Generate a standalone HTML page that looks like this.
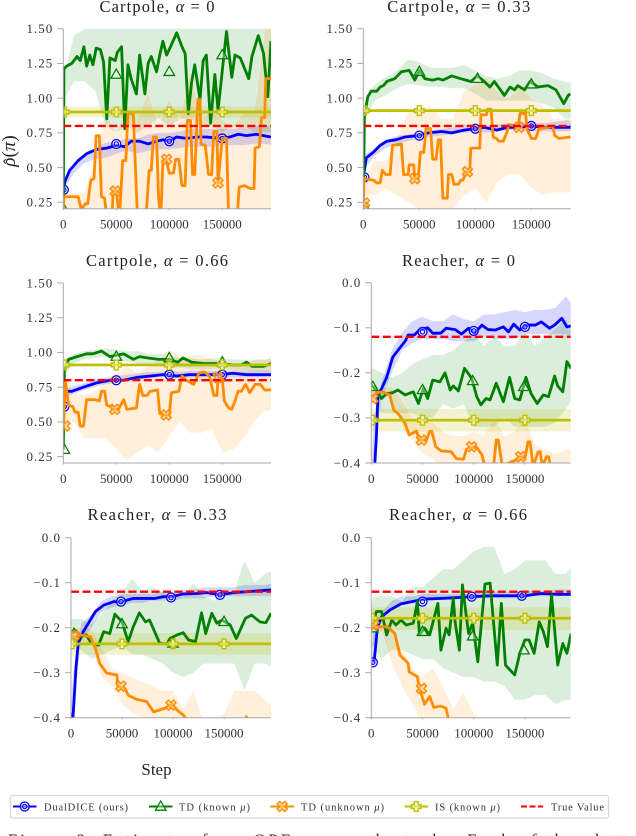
<!DOCTYPE html>
<html lang="en">
<head>
<meta charset="utf-8">
<title>OPE estimates across Cartpole and Reacher</title>
<style>
html,body{margin:0;padding:0;background:#fff;width:636px;height:836px;overflow:hidden}
svg{display:block;font-family:"Liberation Serif",serif}
</style>
</head>
<body>
<svg id="figure" xmlns="http://www.w3.org/2000/svg" width="636" height="836" viewBox="0 0 636 836">
  <g id="panels"></g>
  <text transform="translate(15,151) rotate(-90)" text-anchor="middle" font-size="19" fill="#222"><tspan font-style="italic">ρ</tspan>(<tspan font-style="italic">π</tspan>)</text>
  <text transform="translate(14.5,161.5) rotate(-90)" text-anchor="middle" font-size="16" fill="#222">ˆ</text>
  <text x="156.5" y="775" text-anchor="middle" font-size="17" fill="#222">Step</text>
  <g>
    <rect x="10.5" y="795.5" width="598" height="22.5" rx="2" fill="#fff" stroke="#d8d8d8" stroke-width="1.2"/>
    <g id="legend-handles"></g>
    <text x="44" y="810.5" font-size="10.5" fill="#333" textLength="84">DualDICE (ours)</text>
    <text x="179" y="810.5" font-size="10.5" fill="#333" textLength="71">TD (known <tspan font-style="italic">μ</tspan>)</text>
    <text x="301" y="810.5" font-size="10.5" fill="#333" textLength="83">TD (unknown <tspan font-style="italic">μ</tspan>)</text>
    <text x="435" y="810.5" font-size="10.5" fill="#333" textLength="65">IS (known <tspan font-style="italic">μ</tspan>)</text>
    <text x="551" y="810.5" font-size="10.5" fill="#333" textLength="53">True Value</text>
  </g>
  <text x="8" y="845.5" font-size="16.5" fill="#222" textLength="620">Figure 3: Estimates from OPE across the tasks. Each of the plots</text>
</svg>
<script>
// Shared grid for all shaded bands (thousands of steps)
const bandStepsK = [0,2,10,20,30,40,50,60,70,80,90,100,110,120,130,140,150,160,170,180,190,200];
const wideStepsK = [0,200];
const xTickStepsK = [0,50,100,150];
const cartpoleTicks = [0.25,0.5,0.75,1,1.25,1.5];
const cartpoleTickLabels = ['0.25','0.50','0.75','1.00','1.25','1.50'];
const reacherTicks = [-0.4,-0.3,-0.2,-0.1,0];
const reacherTickLabels = ['−0.4','−0.3','−0.2','−0.1','0.0'];

// Cartpole alpha = 0
const p1BlueSteps = [0,1.5,6,14,22,31,41,50,58,64,72,80,88,94,100,107,116,126,135,148,157,165,173,182,189,196];
const p1BlueValues = [.34,.40,.48,.55,.60,.63,.64,.66,.65,.69,.69,.67,.69,.70,.69,.72,.71,.72,.72,.71,.72,.74,.73,.74,.73,.72];
const p1BlueLow = [.3,.36,.46,.53,.56,.57,.6,.62,.6,.62,.63,.63,.64,.65,.65,.65,.66,.66,.66,.67,.67,.66];
const p1BlueHigh = [.36,.44,.52,.59,.64,.68,.69,.71,.71,.74,.75,.75,.76,.78,.78,.78,.78,.78,.79,.8,.8,.79];
const p1BlueMarkSteps = [.5,50,100,150];
const p1BlueMarkValues = [.34,.67,.69,.71];
const p1GreenSteps = [0,.6,3,8,13,16,19.5,22,25,28,31,35,38,41,44,49,51,55,58,61,64,69,72,77,80,83,88,91,94,97.5,100,107,112,115,118,121,124,129,132,135,139,143,146,154,159,162,167,175,178,184,189,193,196];
const p1GreenValues = [.2,1.21,1.23,1.25,1.30,1.27,1.37,1.23,1.31,1.24,1.36,1.35,1.26,.85,1.29,1.27,1.33,1.37,.78,1.24,1.14,1.03,1.31,1.03,1.25,1.30,1.19,1.31,1.41,1.31,1.35,1.47,1.37,1.32,.89,1.11,1.24,.99,1.27,1.31,.82,1.17,.91,1.48,1.15,1.31,1.29,1.14,1.30,1.45,1.32,1.01,1.41];
const p1GreenLow = [.2,1.0,1.12,1.12,1.05,.8,.75,.8,.75,.8,.85,.8,.85,.85,.8,.8,.75,.8,.8,.75,.75,.75];
const p1GreenHigh = [.3,1.2,1.45,1.5,1.55,1.55,1.55,1.55,1.55,1.55,1.55,1.55,1.55,1.55,1.55,1.55,1.55,1.55,1.55,1.55,1.55,1.55];
const p1GreenMarkSteps = [.5,50,100,150];
const p1GreenMarkValues = [.2,1.17,1.19,1.31];
const p1OrangeSteps = [0,.5,14,17,21,23,26,29,31,34,36,39,41,46,47,50,53,56,59,61,66,70,78,81,83,85,88,90,92,94,97,100,104,106,109,112,115,117,120,122,124,127,129,130,134,137,140,142,145,146,150,154,156,164,166,171,176,180,181,185,187,190,191,196];
const p1OrangeValues = [.2,.29,.29,.2,.24,.24,.41,.42,.73,.73,.29,.28,.14,.14,.33,.33,.14,.55,.55,.89,.89,.14,.14,.48,.48,.72,.72,.27,.14,.55,.56,.46,.46,.56,.56,.37,.37,.84,.84,.45,.45,.99,.99,.67,.66,.45,.45,.76,.76,.39,.71,.71,.14,.14,.36,.37,.35,.35,.64,.65,.86,.86,1.14,1.14];
const p1OrangeLow = [.1,.1,.1,.1,.1,.1,.1,.1,.1,.1,.1,.1,.1,.1,.1,.1,.1,.1,.1,.1,.1,.1];
const p1OrangeHigh = [.3,.3,.32,.32,.55,.9,.75,.95,.85,1.05,.8,1.0,.85,1.2,.85,.9,.85,.8,.9,.9,1.5,1.55];
const p1OrangeMarkSteps = [49,97.5,146];
const p1OrangeMarkValues = [.33,.56,.39];
const p1IsValues = [.90,.90];
const p1IsLow = [.86,.86];
const p1IsHigh = [.94,.94];
const p1IsMarkValues = [.90,.90,.90,.90];
const p1TrueValues = [.8,.8];

// Cartpole alpha = 0.33
const p2BlueSteps = [0,2.7,9,15,21,29,37,49,58,70,79,90,99,108,119,129,138,150,162,174,185];
const p2BlueValues = [.43,.57,.61,.66,.69,.70,.72,.73,.75,.76,.75,.77,.78,.79,.77,.79,.79,.80,.79,.79,.79];
const p2BlueLow = [.4,.5,.58,.64,.67,.69,.71,.72,.73,.74,.75,.76,.75,.76,.77,.77,.76,.76,.76,.76,.76,.76];
const p2BlueHigh = [.45,.6,.64,.70,.73,.74,.75,.77,.78,.79,.81,.81,.80,.81,.82,.82,.82,.82,.83,.84,.84,.84];
const p2BlueMarkSteps = [1,50,100,150];
const p2BlueMarkValues = [.43,.73,.78,.80];
const p2GreenSteps = [0,1,4,7,12,15,18,21,28,34,41,46,50,55,62,67,71,79,87,96,102,108,113,117,126,131,135,138,144,149,156,165,172,179,183,185];
const p2GreenValues = [.22,.87,1.01,1.05,1.05,1.08,1.09,1.12,1.14,1.19,1.20,1.13,1.20,1.14,1.13,1.14,1.13,1.16,1.14,1.12,1.16,1.12,1.08,1.12,1.02,1.08,1.06,1.09,1.06,1.12,1.08,1.09,1.06,.96,1.02,1.03];
const p2GreenLow = [.3,.85,.98,1.02,1.07,1.10,1.09,1.08,1.08,1.07,1.07,1.03,.98,.98,.98,.98,.98,.96,.93,.85,.85,.85];
const p2GreenHigh = [.3,1.0,1.1,1.15,1.2,1.28,1.26,1.22,1.22,1.22,1.24,1.2,1.16,1.14,1.16,1.2,1.2,1.18,1.14,1.12,1.1,1.1];
const p2GreenMarkSteps = [1,50,102,150];
const p2GreenMarkValues = [.22,1.19,1.14,1.10];
const p2OrangeSteps = [0,.6,9,12,15,17,20,24,26,34,36,40,41,45,46,49,51,54,56,60,62,65,67,69,71,75,76,79,81,85,87,89,92,95,96,104,105,110,111,114,116,119,121,125,128,130,135,138,140,145,146,150,154,157,165,169,171,175,185];
const p2OrangeValues = [.2,.42,.41,.39,.39,.48,.45,.45,.66,.67,.45,.45,.52,.52,.42,.42,.61,.61,.78,.78,.56,.56,.70,.70,.28,.28,.45,.45,.38,.38,.41,.41,.47,.47,.64,.64,.88,.88,.92,.92,.72,.71,.69,.69,.75,.81,.80,.78,.89,.89,.78,.71,.71,.78,.79,.80,.73,.71,.72];
const p2OrangeLow = [.15,.3,.3,.35,.3,.25,.2,.2,.2,.2,.3,.35,.25,.4,.45,.45,.35,.3,.32,.32,.32,.32];
const p2OrangeHigh = [.3,.45,.55,.55,.7,.9,.92,.95,.85,.85,1.05,1.1,1.15,1.05,1.0,1.1,1.0,.95,.85,.85,.85,.85];
const p2OrangeMarkSteps = [1,46,93,139];
const p2OrangeMarkValues = [.245,.42,.47,.79];
const p2IsValues = [.91,.91];
const p2IsLow = [.90,.90];
const p2IsHigh = [.92,.92];
const p2IsMarkValues = [.91,.91,.91,.91];
const p2TrueValues = [.8,.8];

// Cartpole alpha = 0.66
const p3BlueSteps = [0,1.5,8,19,31,44,57,69,82,94,107,119,132,148,160,173,189,196];
const p3BlueValues = [.61,.72,.72,.75,.78,.80,.80,.82,.83,.84,.83,.84,.84,.84,.85,.84,.84,.84];
const p3BlueLow = [.58,.68,.7,.73,.75,.77,.78,.79,.80,.81,.82,.82,.81,.82,.82,.82,.82,.82,.82,.82,.82,.82];
const p3BlueHigh = [.63,.74,.76,.78,.81,.82,.83,.84,.85,.86,.86,.87,.86,.87,.87,.87,.87,.87,.87,.87,.87,.87];
const p3BlueMarkSteps = [1,50,100,150];
const p3BlueMarkValues = [.61,.80,.84,.84];
const p3GreenSteps = [0,1,5,13,22,28,36,44,50,57,66,72,80,90,100,108,113,121,132,148,160,168,173,178,189,196];
const p3GreenValues = [.30,.87,.95,.97,.99,.99,1.01,.97,.98,.99,.95,.97,.96,.95,.95,.93,.96,.93,.92,.92,.91,.91,.93,.90,.90,.92];
const p3GreenLow = [.25,.85,.92,.95,.96,.97,.95,.93,.92,.91,.9,.89,.89,.88,.88,.88,.88,.87,.87,.86,.86,.86];
const p3GreenHigh = [.35,.95,.99,1.01,1.02,1.03,1.02,1.01,1.01,.99,.99,.98,.96,.96,.95,.96,.96,.95,.95,.95,.95,.96];
const p3GreenMarkSteps = [1,50,100,150];
const p3GreenMarkValues = [.30,.97,.96,.93];
const p3OrangeSteps = [0,2,5,9,11,14,16,19,22,30,34,36,39,41,46,47,52,57,60,69,72,75,79,82,89,91,96,100,102,109,112,116,123,128,133,138,142,145,146,150,152,156,159,162,165,168,172,176,181,186,190,196];
const p3OrangeValues = [.47,.79,.62,.61,.57,.57,.47,.47,.66,.66,.65,.72,.72,.62,.61,.59,.59,.66,.59,.60,.77,.69,.69,.72,.73,.56,.55,.55,.71,.72,.83,.80,.77,.85,.86,.83,.69,.69,.81,.81,.65,.60,.59,.65,.72,.72,.77,.71,.77,.77,.73,.73];
const p3OrangeLow = [.4,.5,.5,.38,.38,.38,.3,.22,.28,.33,.28,.4,.5,.42,.42,.45,.28,.3,.38,.5,.58,.58];
const p3OrangeHigh = [.55,.85,.7,.7,.72,.8,.85,.9,.85,.9,.95,1.02,.98,.98,.98,.95,.95,.9,.9,.95,.95,.97];
const p3OrangeMarkSteps = [1.5,48.5,97,146];
const p3OrangeMarkValues = [.47,.59,.55,.82];
const p3IsValues = [.91,.91];
const p3IsLow = [.90,.90];
const p3IsHigh = [.92,.92];
const p3IsMarkValues = [.91,.91,.91,.91];
const p3TrueValues = [.8,.8];

// Reacher alpha = 0
const p4BlueSteps = [3,5,6.5,10,15,21,26,33,36,42,47,55,60,68,73,82,88,95,101,108,114,121,129,134,139,145,152,160,166,174,179,186,191,195];
const p4BlueValues = [-.42,-.34,-.25,-.235,-.21,-.165,-.15,-.13,-.116,-.116,-.105,-.10,-.112,-.112,-.101,-.104,-.114,-.101,-.112,-.094,-.104,-.105,-.098,-.109,-.092,-.105,-.094,-.094,-.087,-.101,-.094,-.079,-.098,-.096];
const p4BlueLow = [-.45,-.4,-.26,-.2,-.15,-.135,-.125,-.125,-.125,-.13,-.13,-.13,-.12,-.125,-.125,-.125,-.115,-.115,-.115,-.115,-.115,-.12];
const p4BlueHigh = [-.42,-.3,-.22,-.15,-.11,-.085,-.075,-.085,-.085,-.07,-.08,-.085,-.07,-.07,-.065,-.06,-.065,-.06,-.06,-.055,-.03,-.06];
const p4BlueMarkSteps = [50,100,150];
const p4BlueMarkValues = [-.109,-.107,-.098];
const p4GreenSteps = [0,5,10,15,21,26,33,41,46,51,55,60,67,72,77,80,85,91,98,103,107,112,116,122,129,135,140,145,151,156,162,168,173,179,182,187,191,195];
const p4GreenValues = [-.227,-.238,-.257,-.246,-.244,-.238,-.249,-.242,-.268,-.234,-.257,-.216,-.22,-.20,-.238,-.229,-.24,-.19,-.212,-.253,-.271,-.257,-.26,-.223,-.264,-.21,-.257,-.26,-.21,-.246,-.268,-.249,-.253,-.207,-.229,-.242,-.175,-.19];
const p4GreenLow = [-.26,-.26,-.29,-.29,-.29,-.29,-.3,-.3,-.27,-.28,-.27,-.32,-.32,-.32,-.3,-.32,-.32,-.32,-.32,-.31,-.28,-.25];
const p4GreenHigh = [-.19,-.19,-.2,-.21,-.2,-.18,-.17,-.16,-.16,-.15,-.13,-.11,-.14,-.12,-.14,-.14,-.11,-.14,-.12,-.1,-.08,-.12];
const p4GreenMarkSteps = [1.5,50,99,149];
const p4GreenMarkValues = [-.231,-.238,-.218,-.231];
const p4OrangeSteps = [0,5,11,18,22,26,33,37,44,47,54,57,59,63,68,78,83,90,93,103,108,111,119,122,124,128,137,140,145,150,153,155,158,163,165,167,171,173,176,195];
const p4OrangeValues = [-.257,-.244,-.242,-.249,-.283,-.29,-.312,-.338,-.329,-.349,-.349,-.33,-.33,-.364,-.373,-.375,-.39,-.392,-.369,-.365,-.382,-.408,-.416,-.349,-.349,-.408,-.397,-.395,-.386,-.39,-.353,-.353,-.408,-.375,-.375,-.408,-.386,-.386,-.416,-.416];
const p4OrangeLow = [-.26,-.26,-.25,-.26,-.32,-.35,-.38,-.39,-.42,-.42,-.42,-.44,-.45,-.45,-.45,-.45,-.45,-.45,-.45,-.45,-.45,-.45];
const p4OrangeHigh = [-.24,-.24,-.23,-.23,-.26,-.3,-.31,-.31,-.33,-.34,-.34,-.33,-.34,-.3,-.34,-.33,-.3,-.36,-.37,-.38,-.37,-.37];
const p4OrangeMarkSteps = [1.5,49,98,146];
const p4OrangeMarkValues = [-.257,-.349,-.364,-.386];
const p4IsValues = [-.305,-.305];
const p4IsLow = [-.33,-.33];
const p4IsHigh = [-.28,-.28];
const p4IsMarkValues = [-.305,-.305,-.305,-.305];
const p4TrueValues = [-.12,-.12];

// Reacher alpha = 0.33
const p5BlueSteps = [0,2,5,7,12,17,24,32,42,50,61,71,82,91,99,110,123,133,146,159,172,185,196];
const p5BlueValues = [-.39,-.398,-.287,-.235,-.209,-.19,-.164,-.15,-.142,-.142,-.135,-.135,-.135,-.131,-.131,-.125,-.124,-.122,-.127,-.122,-.12,-.118,-.116];
const p5BlueLow = [-.42,-.38,-.23,-.2,-.165,-.155,-.15,-.145,-.145,-.14,-.14,-.14,-.135,-.135,-.135,-.13,-.13,-.13,-.13,-.13,-.13,-.13];
const p5BlueHigh = [-.38,-.3,-.19,-.17,-.14,-.13,-.125,-.125,-.125,-.125,-.12,-.12,-.115,-.115,-.11,-.11,-.11,-.11,-.105,-.105,-.105,-.1];
const p5BlueMarkSteps = [49,98,146];
const p5BlueMarkValues = [-.142,-.133,-.127];
const p5GreenSteps = [0,5,10,15,20,27,32,38,43,50,56,61,67,73,77,87,94,97,104,110,115,122,128,132,138,143,148,156,162,171,177,185,191,196];
const p5GreenValues = [-.213,-.207,-.22,-.216,-.235,-.239,-.209,-.213,-.17,-.187,-.231,-.198,-.167,-.187,-.183,-.235,-.236,-.224,-.216,-.211,-.227,-.231,-.167,-.213,-.168,-.19,-.183,-.194,-.224,-.179,-.172,-.187,-.189,-.168];
const p5GreenLow = [-.24,-.24,-.25,-.27,-.26,-.25,-.24,-.26,-.26,-.27,-.28,-.3,-.31,-.3,-.28,-.28,-.28,-.28,-.34,-.28,-.28,-.29];
const p5GreenHigh = [-.18,-.18,-.18,-.19,-.17,-.14,-.12,-.09,-.12,-.11,-.12,-.13,-.13,-.1,-.13,-.14,-.12,-.12,-.05,-.1,-.08,-.07];
const p5GreenMarkSteps = [3,50,100,150];
const p5GreenMarkValues = [-.213,-.192,-.235,-.187];
const p5OrangeSteps = [0,4,9,19,24,28,35,45,46,53,56,64,74,81,92,99,104,110,115,169,172,175];
const p5OrangeValues = [-.216,-.224,-.216,-.22,-.246,-.279,-.301,-.305,-.331,-.335,-.35,-.359,-.364,-.387,-.379,-.37,-.383,-.394,-.409,-.409,-.398,-.409];
const p5OrangeLow = [-.23,-.23,-.23,-.24,-.31,-.33,-.37,-.39,-.4,-.42,-.43,-.45,-.45,-.45,-.45,-.45,-.45,-.45,-.45,-.45,-.45,-.45];
const p5OrangeHigh = [-.2,-.2,-.2,-.2,-.24,-.29,-.3,-.31,-.32,-.33,-.34,-.34,-.38,-.34,-.41,-.4,-.39,-.34,-.34,-.34,-.36,-.38];
const p5OrangeMarkSteps = [3,49,98];
const p5OrangeMarkValues = [-.218,-.33,-.372];
const p5IsValues = [-.236,-.236];
const p5IsLow = [-.26,-.26];
const p5IsHigh = [-.212,-.212];
const p5IsMarkValues = [-.236,-.236,-.236,-.236];
const p5TrueValues = [-.12,-.12];

// Reacher alpha = 0.66
const p6BlueSteps = [0,3,6,10,18,29,42,55,68,85,98,117,137,150,166,183,195];
const p6BlueValues = [-.279,-.272,-.198,-.176,-.161,-.147,-.141,-.136,-.135,-.133,-.131,-.129,-.129,-.129,-.124,-.126,-.126];
const p6BlueLow = [-.29,-.27,-.18,-.155,-.145,-.145,-.14,-.14,-.135,-.135,-.135,-.135,-.135,-.135,-.135,-.135,-.13,-.13,-.13,-.13,-.13,-.13];
const p6BlueHigh = [-.26,-.2,-.165,-.14,-.13,-.13,-.125,-.125,-.125,-.125,-.125,-.122,-.122,-.12,-.12,-.12,-.118,-.118,-.118,-.115,-.115,-.115];
const p6BlueMarkSteps = [1.5,50,98,147];
const p6BlueMarkValues = [-.277,-.142,-.131,-.129];
const p6GreenSteps = [0,5,10,15,20,24,29,34,41,45,47,52,57,65,68,73,76,80,82,86,89,92,95,99,104,111,116,123,127,131,140,145,150,154,159,164,168,172,176,182,187,191,195];
const p6GreenValues = [-.205,-.164,-.164,-.216,-.183,-.194,-.183,-.194,-.19,-.142,-.216,-.201,-.216,-.146,-.25,-.201,-.216,-.135,-.19,-.25,-.105,-.161,-.213,-.19,-.276,-.103,-.101,-.283,-.146,-.283,-.305,-.257,-.227,-.227,-.257,-.187,-.209,-.242,-.127,-.283,-.235,-.257,-.213];
const p6GreenLow = [-.25,-.24,-.27,-.25,-.25,-.26,-.27,-.27,-.29,-.3,-.31,-.31,-.32,-.32,-.33,-.36,-.36,-.35,-.35,-.37,-.36,-.36];
const p6GreenHigh = [-.15,-.13,-.13,-.13,-.14,-.11,-.11,-.09,-.07,-.07,-.05,-.03,-.02,-.02,-.08,-.07,-.05,-.05,-.05,-.08,-.08,-.05];
const p6GreenMarkSteps = [1.5,50,99,149];
const p6GreenMarkValues = [-.201,-.209,-.219,-.25];
const p6OrangeSteps = [0,5,16,23,28,36,37,45,47,52,57,61,68,73,76];
const p6OrangeValues = [-.194,-.198,-.198,-.213,-.261,-.279,-.298,-.309,-.335,-.37,-.353,-.377,-.374,-.379,-.41];
const p6OrangeLow = [-.21,-.21,-.21,-.28,-.33,-.37,-.42,-.42,-.45,-.45,-.45,-.45,-.45,-.45,-.45,-.45,-.45,-.45,-.45,-.45,-.45,-.45];
const p6OrangeHigh = [-.18,-.18,-.18,-.2,-.25,-.29,-.31,-.29,-.33,-.38,-.345,-.39,-.41,-.45,-.45,-.45,-.45,-.45,-.45,-.45,-.45,-.45];
const p6OrangeMarkSteps = [2.5,49];
const p6OrangeMarkValues = [-.194,-.335];
const p6IsValues = [-.179,-.179];
const p6IsLow = [-.205,-.205];
const p6IsHigh = [-.155,-.155];
const p6IsMarkValues = [-.179,-.179,-.179,-.179];
const p6TrueValues = [-.12,-.12];

const BLUE = '#0000ff', GREEN = '#008000', ORANGE = '#ff8c00', OLIVE = '#bfbf00', RED = '#ff0000';
const NS = 'http://www.w3.org/2000/svg';

function make(parent, tag, attrs) {
  const node = document.createElementNS(NS, tag);
  for (const key in attrs) node.setAttribute(key, attrs[key]);
  parent.appendChild(node);
  return node;
}

function drawMarker(parent, kind, cx, cy, color) {
  const g = make(parent, 'g', {transform: 'translate(' + cx + ',' + cy + ') scale(1.15)'});
  
  
  if (kind === 'circle') {
    make(g, 'circle', {r: 3.9, fill: 'rgba(255,255,255,.45)', stroke: color, 'stroke-width': 1.1});
    make(g, 'circle', {r: 1.9, fill: 'none', stroke: color, 'stroke-width': 0.9});
  } else if (kind === 'triangle') {
    make(g, 'path', {d: 'M0,-4.8 L4.6,3.2 L-4.6,3.2 Z', fill: 'rgba(255,255,255,.35)', stroke: color, 'stroke-width': 1.1});
  } else if (kind === 'cross') {
    make(g, 'path', {d: 'M-4.4,-2.2 L-2.2,-4.4 L0,-2.2 L2.2,-4.4 L4.4,-2.2 L2.2,0 L4.4,2.2 L2.2,4.4 L0,2.2 L-2.2,4.4 L-4.4,2.2 L-2.2,0 Z', fill: 'rgba(255,200,130,.6)', stroke: color, 'stroke-width': 1.2});
  } else {
    make(g, 'path', {d: 'M-1.7,-4.2 H1.7 V-1.7 H4.2 V1.7 H1.7 V4.2 H-1.7 V1.7 H-4.2 V-1.7 H-1.7 Z', fill: 'rgba(255,255,200,.5)', stroke: color, 'stroke-width': 1.2});
  }
}

function pathFrom(stepsK, values, sx, sy) {
  return stepsK.map((s, i) => (i ? 'L' : 'M') + sx(s).toFixed(2) + ',' + sy(values[i]).toFixed(2)).join(' ');
}

function bandFrom(stepsK, low, high, sx, sy) {
  const up = stepsK.map((s, i) => sx(s).toFixed(2) + ',' + sy(high[i]).toFixed(2));
  const down = stepsK.map((s, i) => sx(s).toFixed(2) + ',' + sy(low[i]).toFixed(2)).reverse();
  return 'M' + up.concat(down).join(' L') + ' Z';
}

const panels = [
  {id: 'cartpole-0', title: 'Cartpole, ', alpha: '0', tx: 157, ty: 12, tw: 115, x0: 63.3, x1: 271, xMaxK: 196, yTop: 28.7, yBot: 208.7, vTop: 1.5, vBot: .204, ticks: cartpoleTicks, labels: cartpoleTickLabels,
   blue: [p1BlueSteps, p1BlueValues, p1BlueLow, p1BlueHigh, p1BlueMarkSteps, p1BlueMarkValues],
   green: [p1GreenSteps, p1GreenValues, p1GreenLow, p1GreenHigh, p1GreenMarkSteps, p1GreenMarkValues],
   orange: [p1OrangeSteps, p1OrangeValues, p1OrangeLow, p1OrangeHigh, p1OrangeMarkSteps, p1OrangeMarkValues],
   is: [p1IsValues, p1IsLow, p1IsHigh, p1IsMarkValues], truth: p1TrueValues},
  {id: 'cartpole-033', title: 'Cartpole, ', alpha: '0.33', tx: 458.7, ty: 12, tw: 143, x0: 363.3, x1: 570.7, xMaxK: 185.2, yTop: 28.7, yBot: 208.7, vTop: 1.5, vBot: .204, ticks: cartpoleTicks, labels: cartpoleTickLabels,
   blue: [p2BlueSteps, p2BlueValues, p2BlueLow, p2BlueHigh, p2BlueMarkSteps, p2BlueMarkValues],
   green: [p2GreenSteps, p2GreenValues, p2GreenLow, p2GreenHigh, p2GreenMarkSteps, p2GreenMarkValues],
   orange: [p2OrangeSteps, p2OrangeValues, p2OrangeLow, p2OrangeHigh, p2OrangeMarkSteps, p2OrangeMarkValues],
   is: [p2IsValues, p2IsLow, p2IsHigh, p2IsMarkValues], truth: p2TrueValues},
  {id: 'cartpole-066', title: 'Cartpole, ', alpha: '0.66', tx: 157, ty: 266, tw: 142, x0: 63.3, x1: 271, xMaxK: 196, yTop: 283, yBot: 463, vTop: 1.5, vBot: .204, ticks: cartpoleTicks, labels: cartpoleTickLabels,
   blue: [p3BlueSteps, p3BlueValues, p3BlueLow, p3BlueHigh, p3BlueMarkSteps, p3BlueMarkValues],
   green: [p3GreenSteps, p3GreenValues, p3GreenLow, p3GreenHigh, p3GreenMarkSteps, p3GreenMarkValues],
   orange: [p3OrangeSteps, p3OrangeValues, p3OrangeLow, p3OrangeHigh, p3OrangeMarkSteps, p3OrangeMarkValues],
   is: [p3IsValues, p3IsLow, p3IsHigh, p3IsMarkValues], truth: p3TrueValues},
  {id: 'reacher-0', title: 'Reacher, ', alpha: '0', tx: 458.5, ty: 266, tw: 113, x0: 371.3, x1: 570.7, xMaxK: 194.7, yTop: 282.7, yBot: 463, vTop: 0, vBot: -.4, ticks: reacherTicks, labels: reacherTickLabels,
   blue: [p4BlueSteps, p4BlueValues, p4BlueLow, p4BlueHigh, p4BlueMarkSteps, p4BlueMarkValues],
   green: [p4GreenSteps, p4GreenValues, p4GreenLow, p4GreenHigh, p4GreenMarkSteps, p4GreenMarkValues],
   orange: [p4OrangeSteps, p4OrangeValues, p4OrangeLow, p4OrangeHigh, p4OrangeMarkSteps, p4OrangeMarkValues],
   is: [p4IsValues, p4IsLow, p4IsHigh, p4IsMarkValues], truth: p4TrueValues},
  {id: 'reacher-033', title: 'Reacher, ', alpha: '0.33', tx: 157, ty: 520, tw: 139, x0: 71, x1: 271, xMaxK: 196, yTop: 537.7, yBot: 717.7, vTop: 0, vBot: -.4, ticks: reacherTicks, labels: reacherTickLabels,
   blue: [p5BlueSteps, p5BlueValues, p5BlueLow, p5BlueHigh, p5BlueMarkSteps, p5BlueMarkValues],
   green: [p5GreenSteps, p5GreenValues, p5GreenLow, p5GreenHigh, p5GreenMarkSteps, p5GreenMarkValues],
   orange: [p5OrangeSteps, p5OrangeValues, p5OrangeLow, p5OrangeHigh, p5OrangeMarkSteps, p5OrangeMarkValues],
   is: [p5IsValues, p5IsLow, p5IsHigh, p5IsMarkValues], truth: p5TrueValues},
  {id: 'reacher-066', title: 'Reacher, ', alpha: '0.66', tx: 458, ty: 520, tw: 138, x0: 371.3, x1: 570.7, xMaxK: 194.7, yTop: 537.7, yBot: 717.7, vTop: 0, vBot: -.4, ticks: reacherTicks, labels: reacherTickLabels,
   blue: [p6BlueSteps, p6BlueValues, p6BlueLow, p6BlueHigh, p6BlueMarkSteps, p6BlueMarkValues],
   green: [p6GreenSteps, p6GreenValues, p6GreenLow, p6GreenHigh, p6GreenMarkSteps, p6GreenMarkValues],
   orange: [p6OrangeSteps, p6OrangeValues, p6OrangeLow, p6OrangeHigh, p6OrangeMarkSteps, p6OrangeMarkValues],
   is: [p6IsValues, p6IsLow, p6IsHigh, p6IsMarkValues], truth: p6TrueValues}
];

const root = document.getElementById('panels');

panels.forEach(function (p) {
  const sx = s => p.x0 + (s / p.xMaxK) * (p.x1 - p.x0);
  const sy = v => p.yTop + (p.vTop - v) / (p.vTop - p.vBot) * (p.yBot - p.yTop);

  const group = make(root, 'g', {});
  
  

  const clip = make(group, 'clipPath', {id: 'clip-' + p.id});
  make(clip, 'rect', {x: p.x0, y: p.yTop, width: p.x1 - p.x0, height: p.yBot - p.yTop});

  const plot = make(group, 'g', {'clip-path': 'url(#clip-' + p.id + ')'});
  
  

  const fills = [[p.blue, BLUE, 'dualdice'], [p.green, GREEN, 'td-known'], [p.orange, ORANGE, 'td-unknown']];
  fills.forEach(function (f) {
    const band = make(plot, 'path', {d: bandFrom(bandStepsK, f[0][2], f[0][3], sx, sy), fill: f[1], 'fill-opacity': f[1] === BLUE ? .16 : .14, stroke: '#fff', 'stroke-opacity': .45, 'stroke-width': .7});
    
    
  });
  const isBand = make(plot, 'path', {d: bandFrom(wideStepsK, p.is[1], p.is[2], sx, sy), fill: OLIVE, 'fill-opacity': .18});
  
  

  const lines = [[p.blue, BLUE, 'dualdice', 'circle'], [p.green, GREEN, 'td-known', 'triangle'], [p.orange, ORANGE, 'td-unknown', 'cross']];
  lines.forEach(function (l) {
    const line = make(plot, 'path', {d: pathFrom(l[0][0], l[0][1], sx, sy), fill: 'none', stroke: l[1], 'stroke-width': 2.8, 'stroke-linejoin': 'round'});
    
    
    l[0][4].forEach(function (s, i) {
      drawMarker(plot, l[3], sx(s), sy(l[0][5][i]), l[1]);
    });
  });

  const isLine = make(plot, 'path', {d: pathFrom(wideStepsK, p.is[0], sx, sy), fill: 'none', stroke: OLIVE, 'stroke-width': 2.7});
  
  
  xTickStepsK.forEach(function (s, i) {
    drawMarker(plot, 'plus', sx(s) + (s === 0 ? 1 : 0), sy(p.is[3][i]), OLIVE);
  });

  const trueLine = make(plot, 'path', {d: pathFrom(wideStepsK, p.truth, sx, sy), fill: 'none', stroke: RED, 'stroke-width': 2.4, 'stroke-dasharray': '8 3.5'});
  
  

  const axisY = make(group, 'line', {x1: p.x0, x2: p.x0, y1: p.yTop, y2: p.yBot, stroke: '#a8a8a8', 'stroke-width': 1});
  
  
  const axisX = make(group, 'line', {x1: p.x0, x2: p.x1, y1: p.yBot, y2: p.yBot, stroke: '#a8a8a8', 'stroke-width': 1});
  
  

  p.ticks.forEach(function (t, i) {
    const mark = make(group, 'line', {x1: p.x0 - 6, x2: p.x0, y1: sy(t), y2: sy(t), stroke: '#a8a8a8', 'stroke-width': 1});
    
    
    const label = make(group, 'text', {x: p.x0 - 10, y: sy(t) + 4.3, 'text-anchor': 'end', 'font-size': 13, 'letter-spacing': 1, fill: '#333'});
    
    
    label.textContent = p.labels[i];
  });

  xTickStepsK.forEach(function (s) {
    const mark = make(group, 'line', {x1: sx(s), x2: sx(s), y1: p.yBot, y2: p.yBot + 1.5, stroke: '#a8a8a8', 'stroke-width': 1});
    
    
    const label = make(group, 'text', {x: sx(s), y: p.yBot + 20, 'text-anchor': 'middle', 'font-size': 13, fill: '#333'});
    
    
    label.textContent = String(s * 1000);
  });

  const title = make(group, 'text', {x: p.tx, y: p.ty, 'text-anchor': 'middle', 'font-size': 16.5, fill: '#222', textLength: p.tw});
  
  
  title.appendChild(document.createTextNode(p.title));
  const greek = make(title, 'tspan', {'font-style': 'italic'});
  greek.textContent = 'α';
  title.appendChild(document.createTextNode(' = ' + p.alpha));
});

// Legend handles
const handleRoot = document.getElementById('legend-handles');
const handleXs = [13, 149, 270.5, 404.5];
const handleColors = [BLUE, GREEN, ORANGE, OLIVE];
const handleKinds = ['circle', 'triangle', 'cross', 'plus'];
handleKinds.forEach(function (kind, i) {
  const h = make(handleRoot, 'line', {x1: handleXs[i], x2: handleXs[i] + 23.5, y1: 806.5, y2: 806.5, stroke: handleColors[i], 'stroke-width': 2});
  
  
  drawMarker(handleRoot, kind, handleXs[i] + 11.7, 806.5, handleColors[i]);
});
const trueHandle = make(handleRoot, 'line', {x1: 521, x2: 543, y1: 806.5, y2: 806.5, stroke: RED, 'stroke-width': 2, 'stroke-dasharray': '6 2.5'});


</script>
</body>
</html>
